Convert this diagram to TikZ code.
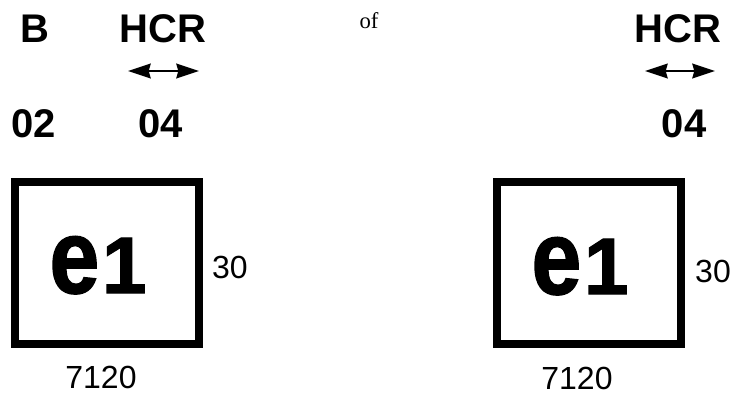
\documentclass[tikz,border=0pt]{standalone}
\usepackage{fontspec}
\usepackage{graphicx}
\setmainfont{Liberation Sans}
\newfontfamily\ofserif{Liberation Serif}
\newfontface\eoneface[FakeBold=1.6]{Liberation Sans Bold}
\usetikzlibrary{arrows.meta,positioning}
\tikzset{hdr/.style={font=\fontsize{30}{30}\selectfont\bfseries, inner sep=0pt, anchor=base},
  num/.style={font=\fontsize{24}{24}\selectfont, inner sep=0pt, anchor=base},
  cell/.style={draw, line width=6pt, minimum width=138pt, minimum height=121.5pt, inner sep=0pt},
  hcrtip/.tip={Stealth[length=17pt,width=11pt,inset=1.5pt]},
  hcrspan/.style={line width=1.6pt, hcrtip-hcrtip}}
\newcommand{\eglyph}{\eoneface\scalebox{0.85}[1]{\fontsize{79}{79}\selectfont e}\hspace{2pt}{\fontsize{60}{60}\selectfont 1}}

\begin{document}
\begin{tikzpicture}[x=0.75pt,y=-0.75pt]
  \useasboundingbox (0,0) rectangle (739,405);
  % top row
  \node[hdr] (b) at (35,42) {B};
  \node[hdr] (hcrL) at (163,42) {HCR};
  \node[inner sep=0pt, anchor=base, font=\ofserif\fontsize{17}{17}\selectfont] (of) at (369,28) {of};
  \node[hdr] (hcrR) at (678,42) {HCR};
  \coordinate (spanLa) at (128,71);
  \coordinate (spanLb) at (199,71);
  \coordinate (spanRa) at (645,71);
  \coordinate (spanRb) at (715,71);
  \draw[hcrspan] (spanLa) -- (spanLb);
  \draw[hcrspan] (spanRa) -- (spanRb);
  \node[hdr] (c02) at (34,137) {02};
  \node[hdr] (c04L) at (160.5,137) {04};
  \node[hdr] (c04R) at (684,137) {04};
  % boxes
  \node[cell] (boxL) at (107,263) {};
  \node[cell] (boxR) at (589,263) {};
  \node[inner sep=0pt, anchor=base] (eL) at (98,293) {\eglyph};
  \node[inner sep=0pt, anchor=base] (eR) at (580,294) {\eglyph};
  \node[num] (wL) at (230,278) {30};
  \node[num] (wR) at (713,282) {30};
  \node[num] (lenL) at (101,388) {7120};
  \node[num] (lenR) at (577,389) {7120};
\end{tikzpicture}
\end{document}
